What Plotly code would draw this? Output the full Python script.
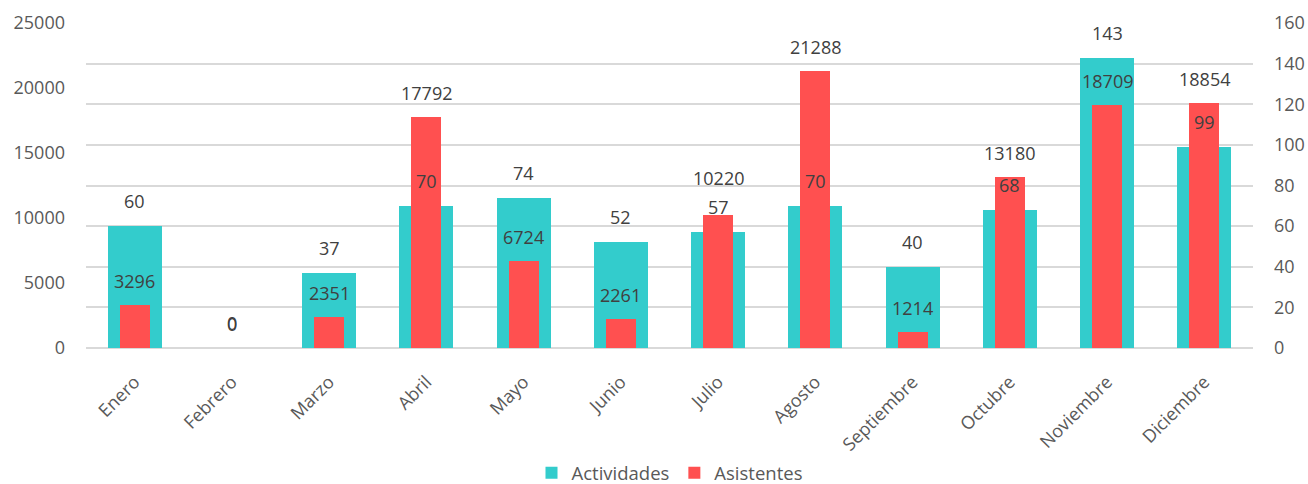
import plotly.graph_objects as go

meses = ["Enero", "Febrero", "Marzo", "Abril", "Mayo", "Junio", "Julio",
         "Agosto", "Septiembre", "Octubre", "Noviembre", "Diciembre"]
actividades = [60, 0, 37, 70, 74, 52, 57, 70, 40, 68, 143, 99]
asistentes = [3296, 0, 2351, 17792, 6724, 2261, 10220, 21288, 1214, 13180, 18709, 18854]

ACT_MAX = 160
ASI_MAX = 25000
PLOT_H = 325  # plot-area height in px (484 - 23 - 136)

TEAL = "#33CCCC"
RED = "#FF5050"
LABEL_FONT = dict(family="Open Sans", size=18, color="#404040")
TICK_FONT = dict(family="Open Sans", size=18, color="#595959")

fig = go.Figure()

# Actividades: wide bars on the right-hand axis (0-160)
fig.add_trace(go.Bar(
    x=meses, y=actividades, name="Actividades", yaxis="y",
    marker=dict(color=TEAL, line=dict(width=0)), width=0.555,
))

# Asistentes: narrow bars on the left-hand axis (0-25000), drawn on top
fig.add_trace(go.Bar(
    x=meses, y=asistentes, name="Asistentes", yaxis="y2",
    marker=dict(color=RED, line=dict(width=0)), width=0.31,
))

# Value labels above each bar; an Asistentes label that would collide with
# the Actividades label of the same month is lifted a little further.
annotations = []
for m, a, s in zip(meses, actividades, asistentes):
    act_shift = 25
    asi_shift = 24
    act_px = a / ACT_MAX * PLOT_H + act_shift
    asi_px = s / ASI_MAX * PLOT_H + asi_shift
    if a > 0 and abs(asi_px - act_px) < 22:
        asi_shift += 13
    annotations.append(dict(x=m, y=a, xref="x", yref="y", text=str(a),
                            showarrow=False, yanchor="middle", yshift=act_shift,
                            font=LABEL_FONT))
    annotations.append(dict(x=m, y=s, xref="x", yref="y2", text=str(s),
                            showarrow=False, yanchor="middle", yshift=asi_shift,
                            font=LABEL_FONT))

fig.update_layout(
    width=1308, height=484,
    margin=dict(l=86, r=55, t=23, b=136, autoexpand=False),
    paper_bgcolor="white", plot_bgcolor="white",
    barmode="overlay", bargap=0,
    showlegend=True,
    legend=dict(orientation="h", x=0.5, xanchor="center", y=-0.385, yanchor="middle",
                font=dict(family="Open Sans", size=18.5, color="#595959"),
                itemwidth=30, traceorder="normal"),
    xaxis=dict(tickangle=-45, tickfont=TICK_FONT, showgrid=False,
               showline=False, ticks="", ticklabelstandoff=19, automargin=False),
    yaxis=dict(side="right", range=[0, ACT_MAX], dtick=20, tickfont=TICK_FONT,
               showgrid=True, gridcolor="#D9D9D9", gridwidth=2,
               zeroline=True, zerolinecolor="#D9D9D9", zerolinewidth=2,
               showline=False, ticks="", ticklabelstandoff=20, automargin=False),
    yaxis2=dict(side="left", overlaying="y", range=[0, ASI_MAX], dtick=5000,
                tickformat="d", tickfont=TICK_FONT, showgrid=False, zeroline=False,
                showline=False, ticks="", ticklabelstandoff=20, automargin=False),
    annotations=annotations,
)

fig.write_html("out.html")
